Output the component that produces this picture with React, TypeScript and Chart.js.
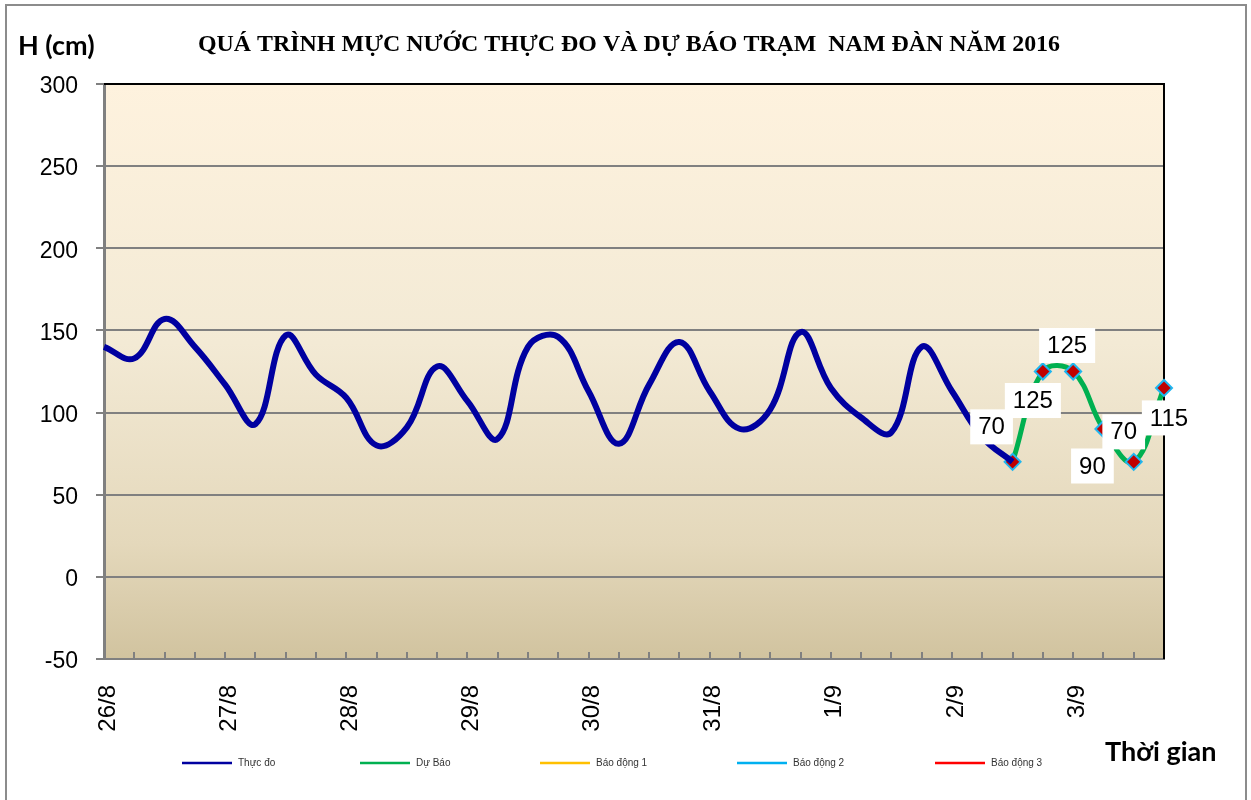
import React, { useEffect, useRef } from 'react';
import { Chart, registerables } from 'chart.js';

Chart.register(...registerables);

// ---- Data ----
const days = ['26/8', '27/8', '28/8', '29/8', '30/8', '31/8', '1/9', '2/9', '3/9'];
const hours = ['1h', '7h', '13h', '19h'];
const categories: string[] = [];
days.forEach((d) => hours.forEach((h) => categories.push(d + ' ' + h)));

const measured = [
  140, 133, 157, 140, 117, 93, 147, 123, 109, 80, 91, 128, 107, 84, 140, 146,
  113, 81, 117, 143, 113, 90, 102, 149, 115, 97, 88, 140, 113, 85, 70,
];
const forecastStart = 30;
const forecast = [70, 125, 125, 90, 70, 115];

const yTicks = [-50, 0, 50, 100, 150, 200, 250, 300];

const seriesNames = ['Thực đo', 'Dự Báo', 'Báo động 1', 'Báo động 2', 'Báo động 3'];

const titleText = 'QUÁ TRÌNH MỰC NƯỚC THỰC ĐO VÀ DỰ BÁO TRẠM  NAM ĐÀN NĂM 2016';
const yTitle = 'H (cm)';
const xTitle = 'Thời gian';

const measuredSeries = categories.map((_, i) => (i < measured.length ? measured[i] : null));
const forecastSeries = categories.map((_, i) =>
  i >= forecastStart && i < forecastStart + forecast.length ? forecast[i - forecastStart] : null
);

// ---- layout-only constants ----
const labelOffsets: [number, number][] = [
  [-21, -35],
  [-10, 29],
  [-6, -26],
  [-11, 37],
  [-10, -30],
  [5, 30],
];
const legendX = [182, 360, 540, 737, 935];
const legendY = 763;

const SANS = '"Liberation Sans", Arial, sans-serif';

const decorPlugin = {
  id: 'decor',
  beforeDraw(chart: any) {
    const { ctx, chartArea } = chart;
    ctx.save();
    ctx.fillStyle = '#ffffff';
    ctx.fillRect(0, 0, chart.width, chart.height);
    ctx.strokeStyle = '#8c8c8c';
    ctx.lineWidth = 2;
    ctx.strokeRect(6, 5, 1240, 820);
    const g = ctx.createLinearGradient(0, chartArea.top, 0, chartArea.bottom);
    g.addColorStop(0, '#FEF2DE');
    g.addColorStop(0.45, '#F3EAD5');
    g.addColorStop(0.8, '#E4D8BB');
    g.addColorStop(1, '#D1C39F');
    ctx.fillStyle = g;
    ctx.fillRect(chartArea.left, chartArea.top, chartArea.right - chartArea.left, chartArea.bottom - chartArea.top);
    ctx.restore();
  },
  beforeDatasetsDraw(chart: any) {
    const { ctx, chartArea } = chart;
    ctx.save();
    ctx.strokeStyle = '#000000';
    ctx.lineWidth = 2;
    ctx.beginPath();
    ctx.moveTo(chartArea.left, chartArea.top);
    ctx.lineTo(chartArea.right, chartArea.top);
    ctx.lineTo(chartArea.right, chartArea.bottom);
    ctx.stroke();
    ctx.restore();
  },
  afterDatasetsDraw(chart: any) {
    const { ctx } = chart;
    const meta = chart.getDatasetMeta(1);
    ctx.save();
    ctx.font = '24px ' + SANS;
    ctx.textAlign = 'center';
    ctx.textBaseline = 'middle';
    forecast.forEach((v, k) => {
      const el = meta.data[forecastStart + k];
      if (!el) return;
      const [dx, dy] = labelOffsets[k];
      const cx = el.x + dx;
      const cy = el.y + dy;
      const text = String(v);
      const w = ctx.measureText(text).width + 16;
      const h = 35;
      ctx.fillStyle = '#ffffff';
      ctx.fillRect(cx - w / 2, cy - h / 2, w, h);
      ctx.fillStyle = '#000000';
      ctx.fillText(text, cx, cy + 1);
    });
    ctx.restore();
  },
  afterDraw(chart: any) {
    const { ctx } = chart;
    ctx.save();
    ctx.fillStyle = '#000000';
    ctx.textBaseline = 'alphabetic';
    ctx.textAlign = 'left';
    ctx.font = 'bold 24px "Liberation Serif", "Times New Roman", serif';
    const tw = ctx.measureText(titleText).width;
    ctx.save();
    ctx.translate(198, 51);
    ctx.scale(862 / tw, 1);
    ctx.fillText(titleText, 0, 0);
    ctx.restore();
    ctx.font = 'bold 27px Lato, "Open Sans", sans-serif';
    ctx.fillText(yTitle, 18, 55);
    ctx.fillText(xTitle, 1105, 761);

    // legend
    ctx.font = '10px ' + SANS;
    ctx.textBaseline = 'middle';
    chart.data.datasets.forEach((ds: any, i: number) => {
      const x = legendX[i];
      ctx.strokeStyle = ds.borderColor;
      ctx.lineWidth = 2.5;
      ctx.beginPath();
      ctx.moveTo(x, legendY);
      ctx.lineTo(x + 50, legendY);
      ctx.stroke();
      ctx.fillStyle = '#333333';
      ctx.fillText(ds.label, x + 56, legendY);
    });
    ctx.restore();
  },
};

export default function App() {
  const ref = useRef<HTMLCanvasElement | null>(null);

  useEffect(() => {
    document.body.style.margin = '0';
    const canvas = ref.current;
    if (!canvas) return;
    const chart = new Chart(canvas, {
      type: 'line',
      data: {
        labels: categories,
        datasets: [
          {
            label: seriesNames[0],
            data: measuredSeries,
            borderColor: '#0000A0',
            backgroundColor: '#0000A0',
            borderWidth: 6,
            tension: 0.4,
            pointRadius: 0,
            clip: false,
          },
          {
            label: seriesNames[1],
            data: forecastSeries,
            borderColor: '#00B050',
            backgroundColor: '#00B050',
            borderWidth: 5,
            tension: 0.4,
            pointStyle: 'rectRot',
            pointRadius: 8,
            pointBackgroundColor: '#C00000',
            pointBorderColor: '#1FB6F0',
            pointBorderWidth: 2,
            clip: false,
          },
          { label: seriesNames[2], data: [], borderColor: '#FFC000', backgroundColor: '#FFC000', pointRadius: 0 },
          { label: seriesNames[3], data: [], borderColor: '#00B0F0', backgroundColor: '#00B0F0', pointRadius: 0 },
          { label: seriesNames[4], data: [], borderColor: '#FF0000', backgroundColor: '#FF0000', pointRadius: 0 },
        ],
      },
      options: {
        animation: false,
        responsive: true,
        maintainAspectRatio: false,
        layout: { padding: { left: 0, right: 87, top: 84, bottom: 51 } },
        plugins: {
          title: { display: false },
          tooltip: { enabled: false },
          legend: { display: false },
        },
        scales: {
          x: {
            type: 'category',
            offset: false,
            afterFit(scale: any) {
              scale.height = 90;
              scale.paddingLeft = 0;
              scale.paddingRight = 0;
            },
            grid: {
              drawOnChartArea: false,
              drawTicks: true,
              tickLength: -7,
              color: '#808080',
              lineWidth: 2,
            },
            border: { display: true, color: '#808080', width: 2 },
            ticks: {
              autoSkip: false,
              maxRotation: 90,
              minRotation: 90,
              padding: 33,
              labelOffset: 4,
              color: '#000000',
              font: { size: 24, family: SANS },
              callback: (_v: any, index: number) => (index % 4 === 0 ? days[index / 4] : ''),
            },
          },
          y: {
            min: -50,
            max: 300,
            afterFit(scale: any) {
              scale.width = 104;
              scale.paddingTop = 0;
              scale.paddingBottom = 0;
            },
            afterBuildTicks(scale: any) {
              scale.ticks = yTicks.map((v) => ({ value: v }));
            },
            grid: {
              color: '#808080',
              lineWidth: 2,
              tickLength: 8,
              drawTicks: true,
            },
            border: { display: true, color: '#808080', width: 3 },
            ticks: {
              padding: 18,
              labelOffset: 3,
              color: '#000000',
              font: { size: 23, family: SANS },
            },
          },
        },
      },
      plugins: [decorPlugin],
    } as any);
    return () => chart.destroy();
  }, []);

  return (
    <div style={{ width: 1251, height: 800, position: 'relative' }}>
      <canvas ref={ref} />
    </div>
  );
}
